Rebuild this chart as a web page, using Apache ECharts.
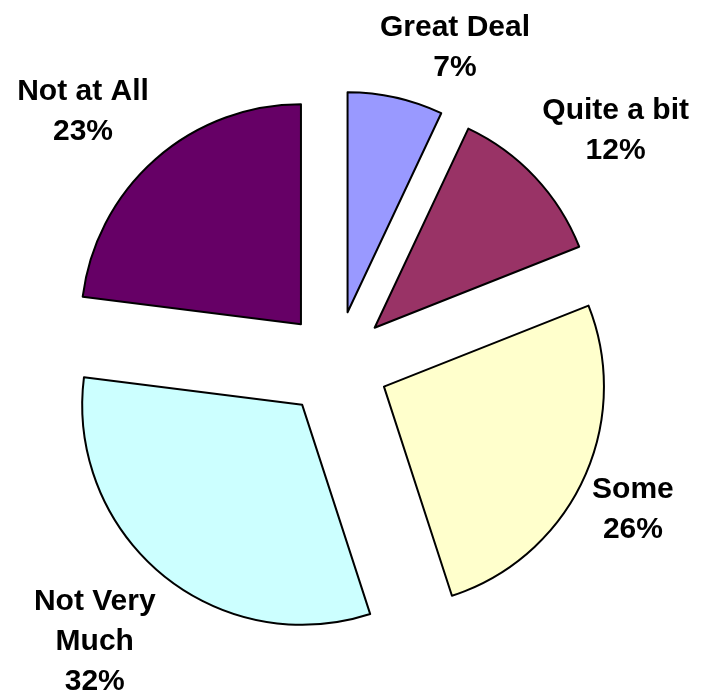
<!DOCTYPE html>
<html>
<head>
<meta charset="utf-8">
<script src="https://cdn.jsdelivr.net/npm/echarts@6/dist/echarts.min.js"></script>
<style>
  html, body { margin: 0; padding: 0; background: #fff; }
  #main { width: 702px; height: 696px; }
</style>
</head>
<body>
<div id="main"></div>
<script>
// answers and their share, clockwise from 12 o'clock
var categories = ['Great Deal', 'Quite a bit', 'Some', 'Not Very\nMuch', 'Not at All'];
var percents = [7, 12, 26, 32, 23];
var colors = ['#9999FF', '#993366', '#FFFFCC', '#CCFFFF', '#660066'];

var pieCenter = [336, 364];
var pieRadius = 220;
var explode = 53;   // every slice is pulled out this far
var labelGap = 10;

var total = 0;
for (var i in percents) total += percents[i];

// mid angle of each slice (radians, clockwise from top)
var midAngles = [];
var acc = 0;
for (var i = 0; i < percents.length; i++) {
  midAngles.push((acc + percents[i] / 2) / total * 2 * Math.PI);
  acc += percents[i];
}

function clamp1 (v) { return Math.max(-1, Math.min(1, v)); }

// label box sits just outside the slice, pushed away along its mid angle
function placeLabel (p) {
  var a = midAngles[p.dataIndex];
  var s = Math.sin(a), c = Math.cos(a);
  var d = pieRadius + explode + labelGap;
  return {
    x: pieCenter[0] + d * s + p.labelRect.width / 2 * clamp1(3.5 * s),
    y: pieCenter[1] - d * c - p.labelRect.height / 2 * clamp1(1.5 * c),
    align: 'center',
    verticalAlign: 'middle'
  };
}

// one pie per slice, each moved out along its own mid angle (exploded pie)
var series = [];
for (var k = 0; k < categories.length; k++) {
  var data = [];
  for (var j = 0; j < categories.length; j++) {
    var on = j === k;
    data.push({
      name: categories[j],
      value: percents[j],
      itemStyle: on ? { color: colors[j], borderColor: '#000', borderWidth: 2 }
                    : { color: 'rgba(0,0,0,0)', borderWidth: 0 },
      label: { show: on }
    });
  }
  series.push({
    type: 'pie',
    silent: true,
    center: [pieCenter[0] + explode * Math.sin(midAngles[k]),
             pieCenter[1] - explode * Math.cos(midAngles[k])],
    radius: pieRadius,
    startAngle: 90,
    clockwise: true,
    avoidLabelOverlap: false,
    label: {
      position: 'outside',
      formatter: '{b}\n{c}%',
      fontFamily: 'Arial, "Liberation Sans", sans-serif',
      fontWeight: 'bold',
      fontSize: 30,
      lineHeight: 40,
      color: '#000',
      overflow: 'none'
    },
    labelLine: { show: false },
    labelLayout: placeLabel,
    data: data
  });
}

var myChart = echarts.init(document.getElementById('main'));
myChart.setOption({ animation: false, series: series });
</script>
</body>
</html>
